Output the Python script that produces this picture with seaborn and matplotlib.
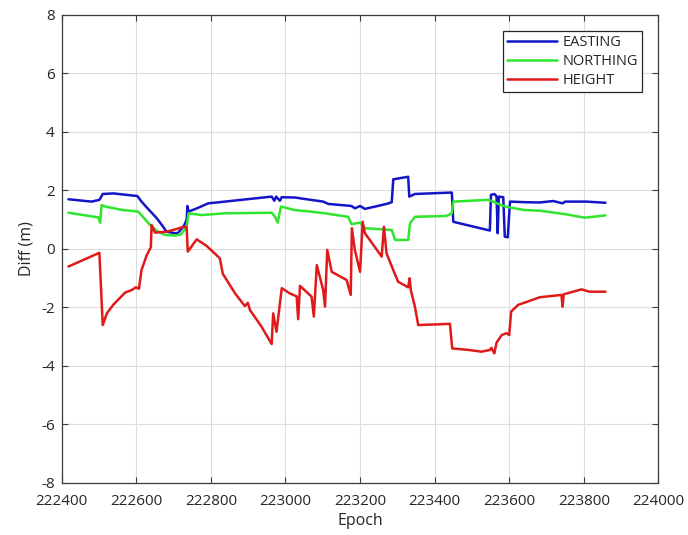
import matplotlib
matplotlib.use("Agg")
import matplotlib.pyplot as plt
import seaborn as sns
import pandas as pd

# Position differences (m) per epoch for each component
easting_epoch = [222418, 222480, 222501, 222510, 222538, 222603, 222614, 222628, 222655,
                 222672, 222681, 222704, 222712, 222728, 222735, 222737, 222740, 222757,
                 222793, 222838, 222918, 222963, 222970, 222975, 222985, 222990, 223025,
                 223057, 223101, 223115, 223177, 223186, 223200, 223213, 223271, 223285,
                 223289, 223329, 223332, 223347, 223446, 223450, 223548, 223551, 223560,
                 223566, 223569, 223572, 223584, 223588, 223596, 223602, 223642, 223682,
                 223718, 223743, 223750, 223807, 223858]
easting_diff = [1.70, 1.62, 1.68, 1.88, 1.90, 1.81, 1.62, 1.42, 1.05,
                0.76, 0.59, 0.54, 0.55, 0.80, 1.00, 1.47, 1.28, 1.36,
                1.56, 1.62, 1.73, 1.79, 1.65, 1.79, 1.65, 1.77, 1.76,
                1.70, 1.62, 1.54, 1.47, 1.39, 1.47, 1.37, 1.54, 1.60,
                2.38, 2.47, 1.79, 1.88, 1.93, 0.93, 0.63, 1.85, 1.88,
                1.80, 0.54, 1.79, 1.77, 0.42, 0.40, 1.62, 1.60, 1.59,
                1.64, 1.56, 1.62, 1.62, 1.58]

northing_epoch = [222418, 222498, 222503, 222507, 222520, 222565, 222605, 222619, 222637,
                  222655, 222677, 222704, 222720, 222735, 222740, 222775, 222838, 222963,
                  222972, 222979, 222988, 223025, 223066, 223106, 223168, 223177, 223200,
                  223213, 223285, 223294, 223329, 223334, 223347, 223432, 223446, 223450,
                  223544, 223589, 223642, 223682, 223745, 223803, 223858]
northing_diff = [1.24, 1.08, 0.90, 1.50, 1.44, 1.33, 1.28, 1.08, 0.82,
                 0.62, 0.48, 0.46, 0.50, 0.76, 1.22, 1.16, 1.22, 1.24,
                 1.10, 0.90, 1.45, 1.33, 1.28, 1.22, 1.10, 0.85, 0.90,
                 0.71, 0.65, 0.31, 0.31, 0.88, 1.10, 1.13, 1.22, 1.62,
                 1.68, 1.45, 1.33, 1.31, 1.20, 1.07, 1.15]

height_epoch = [222418, 222501, 222510, 222521, 222538, 222570, 222588, 222599, 222607,
                222614, 222628, 222639, 222641, 222650, 222681, 222704, 222722, 222735,
                222738, 222762, 222789, 222815, 222824, 222832, 222865, 222891, 222899,
                222905, 222936, 222963, 222967, 222976, 222990, 223012, 223030, 223034,
                223039, 223070, 223076, 223084, 223101, 223106, 223112, 223124, 223164,
                223175, 223178, 223186, 223200, 223207, 223213, 223258, 223264, 223271,
                223289, 223302, 223329, 223333, 223336, 223347, 223356, 223441, 223447,
                223490, 223526, 223548, 223552, 223560, 223566, 223580, 223593, 223600,
                223605, 223624, 223642, 223682, 223740, 223743, 223746, 223794, 223815,
                223858]
height_diff = [-0.60, -0.13, -2.60, -2.20, -1.91, -1.49, -1.40, -1.31, -1.36,
               -0.72, -0.21, 0.06, 0.82, 0.56, 0.59, 0.67, 0.74, 0.76,
               -0.09, 0.33, 0.10, -0.21, -0.32, -0.85, -1.52, -1.95, -1.84,
               -2.09, -2.66, -3.25, -2.20, -2.83, -1.34, -1.52, -1.62, -2.40,
               -1.26, -1.63, -2.31, -0.55, -1.40, -1.97, -0.03, -0.78, -1.06,
               -1.57, 0.71, -0.03, -0.78, 0.93, 0.54, -0.26, 0.76, -0.15,
               -0.72, -1.12, -1.31, -1.00, -1.40, -1.97, -2.60, -2.56, -3.40,
               -3.45, -3.51, -3.45, -3.38, -3.57, -3.20, -2.94, -2.88, -2.94,
               -2.14, -1.91, -1.83, -1.65, -1.57, -1.97, -1.55, -1.38, -1.46,
               -1.46]

x_ticks = [222400, 222600, 222800, 223000, 223200, 223400, 223600, 223800, 224000]
y_ticks = [-8, -6, -4, -2, 0, 2, 4, 6, 8]

series = [
    ("EASTING", easting_epoch, easting_diff, "#1414c8"),
    ("NORTHING", northing_epoch, northing_diff, "#2ee62e"),
    ("HEIGHT", height_epoch, height_diff, "#e01a1a"),
]

sns.set_theme(style="white")
plt.rcParams["font.family"] = ["Open Sans", "DejaVu Sans"]

fig = plt.figure(figsize=(6.88, 5.35), dpi=100)
ax = fig.add_axes([0.0897, 0.0972, 0.957 - 0.0897, 0.972 - 0.0972])

for name, ep, val, col in series:
    df = pd.DataFrame({"Epoch": ep, "Diff": val})
    sns.lineplot(data=df, x="Epoch", y="Diff", ax=ax, color=col, label=name,
                 estimator=None, sort=False, linewidth=1.8)

ax.set_xlim(222400, 224000)
ax.set_ylim(-8, 8)
ax.set_xticks(x_ticks)
ax.set_yticks(y_ticks)
ax.set_xticklabels([str(t) for t in x_ticks])
ax.set_yticklabels([str(t) for t in y_ticks])
ax.grid(True, color="#dcdcdc", linewidth=0.8)
ax.set_axisbelow(True)
for s in ax.spines.values():
    s.set_color("#3c3c3c")
    s.set_linewidth(0.9)
ax.tick_params(direction="in", length=4, width=0.8, color="#3c3c3c",
               labelsize=11, labelcolor="#262626", top=True, right=True,
               bottom=True, left=True)
ax.tick_params(axis="x", pad=8)
ax.tick_params(axis="y", pad=5)
ax.set_xlabel("Epoch", fontsize=11.5, color="#262626", labelpad=3)
ax.set_ylabel("Diff (m)", fontsize=11.5, color="#262626", labelpad=5)

leg = ax.legend(loc="upper right", fontsize=10.5, frameon=True, fancybox=False,
                framealpha=1, edgecolor="#262626", borderaxespad=1.1,
                handlelength=3.4, handletextpad=0.4, labelspacing=0.25,
                borderpad=0.3)
leg.get_frame().set_linewidth(0.9)

fig.savefig("out.png", dpi=100)
